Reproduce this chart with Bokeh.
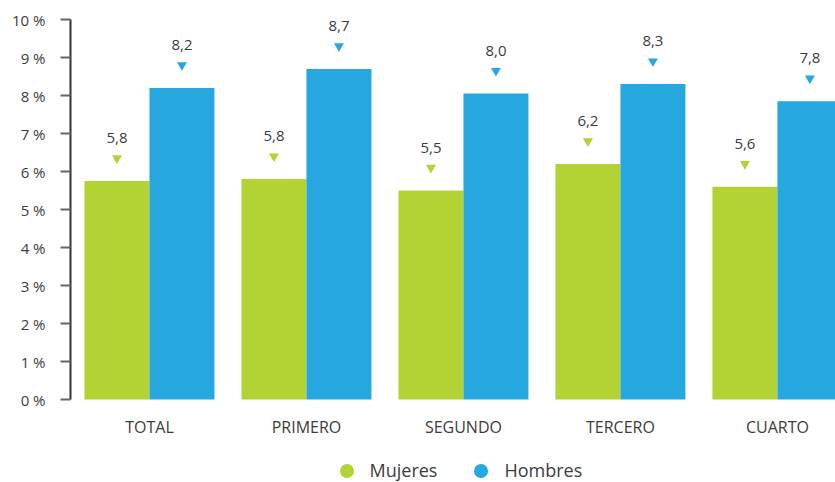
from bokeh.plotting import figure
from bokeh.models import Range1d, FixedTicker, Legend, LegendItem
from bokeh.core.properties import value
from bokeh.embed import file_html
from bokeh.resources import INLINE

categories = ["TOTAL", "PRIMERO", "SEGUNDO", "TERCERO", "CUARTO"]
mujeres = [5.75, 5.8, 5.5, 6.2, 5.6]
hombres = [8.2, 8.7, 8.05, 8.3, 7.85]
mujeres_labels = ["5,8", "5,8", "5,5", "6,2", "5,6"]
hombres_labels = ["8,2", "8,7", "8,0", "8,3", "7,8"]
y_ticks = list(range(0, 11))
y_tick_labels = [f"{t} %" for t in y_ticks]

GREEN = "#B3D234"
BLUE = "#27A7DF"
FONT = "Open Sans"
TEXT = "#3c3c3c"

idx = list(range(len(categories)))
bar_w = 0.414
xm = [i - bar_w / 2 for i in idx]
xh = [i + bar_w / 2 for i in idx]
tri_off = 0.6

p = figure(width=835, height=482,
           x_range=Range1d(-0.503, 4.370), y_range=Range1d(-2.184, 10),
           x_axis_type=None,
           output_backend="svg", toolbar_location=None,
           min_border_left=70, min_border_right=0, min_border_top=19, min_border_bottom=0)
p.outline_line_color = None
p.grid.grid_line_color = None
p.background_fill_color = "white"

ax = p.yaxis[0]
ax.bounds = (0, 10)
ax.ticker = FixedTicker(ticks=y_ticks)
ax.major_label_overrides = {t: l for t, l in zip(y_ticks, y_tick_labels)}
ax.axis_line_color = "#333333"
ax.axis_line_width = 2
ax.major_tick_line_color = "#666666"
ax.major_tick_line_width = 2
ax.major_tick_out = 10
ax.major_tick_in = 0
ax.minor_tick_line_color = None
ax.major_label_standoff = 15
ax.major_label_text_font = FONT
ax.major_label_text_font_size = "15px"
ax.major_label_text_color = TEXT

# circle markers used as legend keys; drawn first, fully covered by same-colour bars
r_m = p.scatter(x=xm, y=[v / 2 for v in mujeres], marker="circle", size=14,
                color=GREEN, line_color=None)
r_h = p.scatter(x=xh, y=[v / 2 for v in hombres], marker="circle", size=14,
                color=BLUE, line_color=None)

p.vbar(x=xm, top=mujeres, bottom=0, width=bar_w, color=GREEN, line_color=None)
p.vbar(x=xh, top=hombres, bottom=0, width=bar_w, color=BLUE, line_color=None)

p.scatter(x=xm, y=[v + tri_off for v in mujeres], marker="inverted_triangle",
          size=10, color=GREEN, line_color=None)
p.scatter(x=xh, y=[v + tri_off for v in hombres], marker="inverted_triangle",
          size=10, color=BLUE, line_color=None)

for xs, vals, labs in ((xm, mujeres, mujeres_labels), (xh, hombres, hombres_labels)):
    p.text(x=xs, y=vals, text=labs, y_offset=-43, text_align="center",
           text_baseline="middle", text_font=value(FONT), text_font_size="15px",
           text_color=TEXT)

p.text(x=idx, y=[0] * len(idx), text=categories, y_offset=27, text_align="center",
       text_baseline="middle", text_font=value(FONT), text_font_size="16px",
       text_color=TEXT)

legend = Legend(items=[LegendItem(label="Mujeres", renderers=[r_m]),
                       LegendItem(label="Hombres", renderers=[r_h])],
                orientation="horizontal", location=(258.5, -5.5),
                glyph_width=35, glyph_height=35, padding=0, margin=0,
                spacing=26, label_standoff=6,
                border_line_color=None, background_fill_alpha=0,
                label_text_font=FONT, label_text_font_size="18px",
                label_text_color=TEXT)
p.add_layout(legend)

open("out.html", "w").write(file_html(p, INLINE))
